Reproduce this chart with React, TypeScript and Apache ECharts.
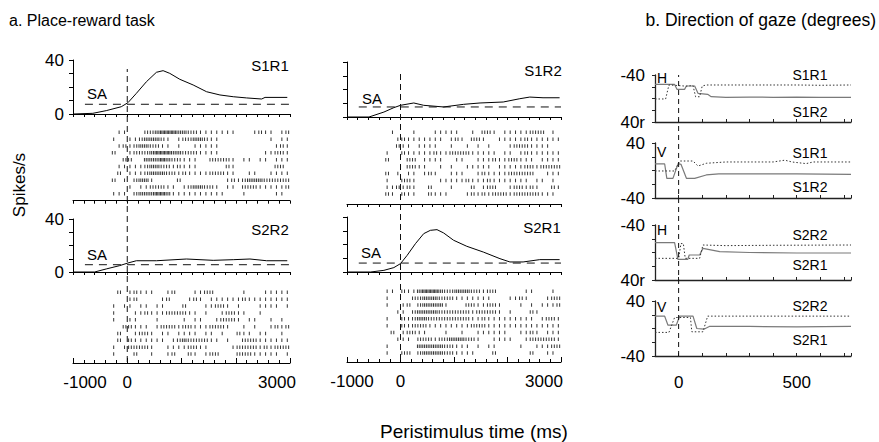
import React, { useEffect, useRef } from 'react';
import * as echarts from 'echarts';

const FONT = '"Liberation Sans", Arial, Helvetica, sans-serif';

// ---------- PSTH curves: [time ms, spikes/s] ----------
const psthS1R1 = [[-1000, 0], [-634, 0.5], [-387, 2.5], [-110, 5.4], [13, 8.4], [168, 15.3], [353, 23.9], [538, 30.9], [661, 32.1], [784, 30.1], [969, 25.7], [1215, 21.5], [1462, 16.5], [1708, 14.1], [1954, 12.8], [2200, 11.9], [2478, 11.1], [2540, 12.3], [2950, 12.3]];
const psthS1R2 = [[-1000, 0], [-589, 0], [-310, 3.6], [-124, 6.8], [0, 8.5], [248, 10.2], [434, 8.5], [806, 7.3], [1177, 9.2], [1487, 10.2], [1920, 10.9], [2230, 13.3], [2416, 14.5], [2664, 14], [2974, 14]];
const psthS2R2 = [[-1000, 0], [-602, 0], [-387, 2.3], [-140, 4.8], [13, 6.8], [168, 8.5], [538, 8.5], [1092, 9.8], [1585, 8.8], [1954, 9.3], [2262, 9.8], [2570, 8.5], [2950, 8.5]];
const psthS2R1 = [[-1000, 0], [-558, 0], [-310, 1.2], [-124, 3.2], [0, 6.1], [124, 12.1], [279, 20.6], [434, 27.9], [558, 30.3], [682, 30.8], [806, 28.4], [992, 23.1], [1239, 18.7], [1549, 14.5], [1859, 9.7], [2045, 7.3], [2292, 7.3], [2602, 9], [2974, 9]];

// spontaneous activity (SA) levels
const saS1R1 = [[-780, 7.2], [3000, 7.2]];
const saS1R2 = [[-780, 7.3], [3000, 7.3]];
const saS2R2 = [[-780, 5.5], [3000, 5.5]];
const saS2R1 = [[-780, 6.5], [3000, 6.5]];

// ---------- Rasters: per trial, spike counts in 100 ms bins starting at -300 ms ----------
const RASTER_T0 = -300;
const RASTER_BIN = 100;
const rowsS1R1 = [
  '011000223444332211111110001211012',
  '100112333210122332110000000001011',
  '012123322110100111110000000000121',
  '200122234443322211110000000011221',
  '002200333432211100222210110110111',
  '011111233221211100000210000000220',
  '020111233322121111222110011001111',
  '201023310000200000000121233322222',
  '000101122211012332210110222111112',
  '111023334431111111111000100000110',
];
const rowsS1R2 = [
  '010001000111110010221011111222010',
  '001211111110121022100111112111111',
  '002110111100100101010001222111100',
  '100211111211222211111011012111111',
  '200022011110011001112112211101111',
  '000022110010100111110111112212222',
  '201011012100111001211112222200111',
  '100221000011111211121111111011010',
  '112121002000100020122001221210021',
  '210211002111000121212221222221110',
];
const rowsS2R2 = [
  '020121110012000112200000100011111',
  '000120000120001210111111211111111',
  '101101101100020001122101000111101',
  '100011211122221101001221100100000',
  '100110001000010110012221011001010',
  '002211101222122111222100101001212',
  '020012210110111101101002110110010',
  '020211111101232222110100222111111',
  '101222210011112211000012222121222',
  '100020010012002101220002221111101',
];
const rowsS2R1 = [
  '110211344432233322122000001100010',
  '100002233322211111110001121000122',
  '100120233331000221122100010101112',
  '001102333322222212222101000210000',
  '100212332222222211211111111101221',
  '100212221111111122211111111111111',
  '020122110001001001111110011210111',
  '001110222122333221001111001222221',
  '100000333332211101011000010011122',
  '100220233332211110002000000200110',
];

// ---------- Gaze direction: [time ms, degrees] ----------
const gazeH1_S1R2 = [[-100, -24], [-17, -24], [-7, -15.6], [25, -15.6], [33, -21.3], [68, -21.3], [82, -8.8], [123, -7.1], [138, -3.1], [200, -2], [300, -2.5], [400, -2], [500, -2.2], [600, -2], [730, -2]];
const gazeH1_S1R1 = [[-100, 0.8], [-55, 0.8], [-41, -23], [0, -22], [30, -21], [61, -22], [72, -3], [89, -3], [100, -21.3], [117, -23], [300, -23], [500, -23], [600, -22.5], [730, -23]];
const gazeV1_S1R2 = [[-100, 9.5], [-59, 9.5], [-50, -11.4], [-24, -11.4], [-2, 10], [10, 9], [33, -11.4], [68, -11.4], [117, -6.5], [170, -5], [300, -5], [500, -5], [730, -5.5]];
const gazeV1_S1R1 = [[-100, -0.7], [-17, -0.7], [4, 13.8], [61, 13.8], [82, 6.5], [117, 10.5], [200, 12.4], [400, 12.4], [450, 15], [480, 12.4], [540, 10], [570, 12.4], [730, 12.4]];
const gazeH2_S2R1 = [[-100, -14.3], [-17, -14.3], [-3, 9.9], [39, 9.9], [45, 3.6], [89, 3.6], [103, -6], [174, -1.2], [300, 0], [500, 0.7], [730, 0.7]];
const gazeH2_S2R2 = [[-100, 8.5], [0, 8.5], [10, -13], [20, -13], [28, 8.5], [89, 8.5], [103, -10.9], [200, -10], [400, -10.5], [730, -10.9]];
const gazeV2_S2R1 = [[-100, 17.9], [-59, 17.9], [-45, 4.8], [-10, 4.8], [4, 17.9], [61, 17.9], [77, 0], [107, -1], [130, 3], [300, 3], [500, 2.5], [730, 3]];
const gazeV2_S2R2 = [[-100, -5.7], [-41, -5.7], [-17, 16], [50, 16], [56, -4.8], [103, -4.8], [123, 18], [300, 18], [730, 18]];

// tick labels
const psthYLabels = [0, 40];
const timeXLabels = [-1000, 0, 3000];
const gazeXLabels = [0, 500];

function rasterPoints(rows: string[]) {
  const pts: number[][] = [];
  rows.forEach((r, i) => {
    for (let b = 0; b < r.length; b++) {
      const n = Number(r[b]);
      for (let k = 0; k < n; k++) {
        pts.push([RASTER_T0 + b * RASTER_BIN + ((k + 0.5) * RASTER_BIN) / n, i + 1]);
      }
    }
  });
  return pts;
}

const BLACK = '#000';

export default function App() {
  const ref = useRef<HTMLDivElement>(null);

  useEffect(() => {
    if (!ref.current) return;
    const chart = echarts.init(ref.current, null, { renderer: 'svg' });

    const grids = [
      { left: 73, top: 60, width: 217, height: 54 }, // 0 PSTH S1R1
      { left: 73, top: 125.5, width: 217, height: 75.2 }, // 1 raster S1R1
      { left: 73, top: 219, width: 217, height: 53 }, // 2 PSTH S2R2
      { left: 73, top: 285.5, width: 217, height: 77.5 }, // 3 raster S2R2
      { left: 347, top: 62, width: 214, height: 55 }, // 4 PSTH S1R2
      { left: 347, top: 125.5, width: 214, height: 78.5 }, // 5 raster S1R2
      { left: 347, top: 217, width: 214, height: 55 }, // 6 PSTH S2R1
      { left: 347, top: 284.5, width: 214, height: 77.5 }, // 7 raster S2R1
      { left: 655, top: 75, width: 196, height: 47 }, // 8 H S1
      { left: 655, top: 143, width: 196, height: 55 }, // 9 V S1
      { left: 655, top: 225, width: 196, height: 55 }, // 10 H S2
      { left: 655, top: 301, width: 196, height: 55 }, // 11 V S2
      { left: 73, top: 69, width: 217, height: 293 }, // 12 overlay left
      { left: 347, top: 73, width: 214, height: 287 }, // 13 overlay right
      { left: 655, top: 75, width: 196, height: 281 }, // 14 overlay b
    ];

    const axisLine = { show: true, onZero: false, lineStyle: { color: BLACK, width: 1 } };
    const labelStyle = { color: BLACK, fontFamily: FONT, fontSize: 17 };

    const psthX = (g: number) => ({
      gridIndex: g, type: 'value', min: -1000, max: 3000, interval: 200,
      axisLine, axisTick: { show: true, length: 3, inside: false, lineStyle: { color: BLACK } },
      axisLabel: { show: false }, splitLine: { show: false },
    });
    const rasterTopX = (g: number) => ({
      gridIndex: g, type: 'value', min: -1000, max: 3000, interval: 200,
      axisLine, axisTick: { show: true, length: 3, inside: false, lineStyle: { color: BLACK } },
      axisLabel: { show: false }, splitLine: { show: false },
    });
    const rasterBottomX = (g: number, minPad: number, maxPad: number) => ({
      gridIndex: g, type: 'value', min: -1000, max: 3000, interval: 1000,
      axisLine,
      axisTick: { show: true, length: 5, inside: true, lineStyle: { color: BLACK } },
      minorTick: { show: true, splitNumber: 5, length: 3, lineStyle: { color: BLACK } },
      splitLine: { show: false }, minorSplitLine: { show: false },
      axisLabel: {
        ...labelStyle, margin: 11,
        formatter: (v: number) => {
          if (!timeXLabels.includes(v)) return '';
          if (v === -1000) return '{a|' + v + '}';
          if (v === 3000) return '{b|' + v + '}';
          return String(v);
        },
        rich: {
          a: { ...labelStyle, padding: [0, 0, 0, minPad] },
          b: { ...labelStyle, padding: [0, maxPad, 0, 0] },
        },
      },
    });
    const psthY = (g: number, labels: boolean) => ({
      gridIndex: g, type: 'value', min: 0, max: 40, interval: 10,
      axisLine, axisTick: { show: true, length: 4, inside: false, lineStyle: { color: BLACK } },
      splitLine: { show: false },
      axisLabel: labels
        ? { ...labelStyle, margin: 9, formatter: (v: number) => (psthYLabels.includes(v) ? String(v) : '') }
        : { show: false },
    });
    const rasterY = (g: number, max: number) => ({
      gridIndex: g, type: 'value', min: 0, max, inverse: true, show: false,
    });
    const gazeX = (g: number, labels: boolean) => ({
      gridIndex: g, type: 'value', min: -100, max: 730, interval: 100,
      axisLine: { show: true, onZero: false, lineStyle: { color: '#222', width: 1.3 } },
      axisTick: { show: true, length: 3, inside: true, lineStyle: { color: '#222' } },
      splitLine: { show: false },
      axisLabel: labels
        ? { ...labelStyle, margin: 18, formatter: (v: number) => (gazeXLabels.includes(v) ? String(v) : '') }
        : { show: false },
    });
    const gazeY = (g: number, horiz: boolean) => ({
      gridIndex: g, type: 'value', min: -40, max: 40, interval: 20, inverse: horiz,
      axisLine: { show: true, onZero: false, lineStyle: { color: '#222', width: 1.3 } },
      axisTick: { show: true, length: 3, inside: false, lineStyle: { color: '#222' } },
      splitLine: { show: false },
      axisLabel: {
        ...labelStyle, margin: 10,
        formatter: (v: number) => {
          if (horiz) return v === -40 ? '-40' : v === 40 ? '40r' : '';
          return v === 40 ? '40' : v === -40 ? '-40' : '';
        },
      },
    });
    const hiddenX = (g: number, min: number, max: number) => ({ gridIndex: g, type: 'value', min, max, show: false });
    const hiddenY = (g: number) => ({ gridIndex: g, type: 'value', min: 0, max: 1, show: false });

    const xAxis = [
      psthX(0), rasterTopX(1), psthX(2), rasterBottomX(3, 24, 26),
      psthX(4), rasterTopX(5), psthX(6), rasterBottomX(7, 10, 34),
      gazeX(8, false), gazeX(9, false), gazeX(10, false), gazeX(11, true),
      hiddenX(12, -1000, 3000), hiddenX(13, -1000, 3000), hiddenX(14, -100, 730),
    ];
    const yAxis = [
      psthY(0, true), rasterY(1, 11), psthY(2, true), rasterY(3, 11.3),
      psthY(4, false), rasterY(5, 11.44), psthY(6, false), rasterY(7, 11.3),
      gazeY(8, true), gazeY(9, false), gazeY(10, true), gazeY(11, false),
      hiddenY(12), hiddenY(13), hiddenY(14),
    ];

    const line = (g: number, data: number[][], extra: any = {}) => ({
      type: 'line', xAxisIndex: g, yAxisIndex: g, data, symbol: 'none', silent: true,
      lineStyle: { color: BLACK, width: 1, ...(extra.lineStyle || {}) },
      z: extra.z ?? 3,
    });
    const sa = (g: number, data: number[][]) => line(g, data, { lineStyle: { type: [8, 6], color: '#111' } });
    const raster = (g: number, rows: string[]) => ({
      type: 'scatter', xAxisIndex: g, yAxisIndex: g, data: rasterPoints(rows), silent: true,
      symbol: 'rect', symbolSize: [1, 3.5], itemStyle: { color: BLACK },
    });
    const solidGaze = (g: number, data: number[][]) => line(g, data, { lineStyle: { color: '#7a7a7a', width: 1.2 } });
    const dottedGaze = (g: number, data: number[][]) => line(g, data, { lineStyle: { color: '#333', width: 1, type: [1.5, 2] } });
    const zeroLine = (g: number, dash: number[]) => line(g, [[0, 0], [0, 1]], { lineStyle: { type: dash, color: '#111' } });

    const series = [
      line(0, psthS1R1), sa(0, saS1R1), raster(1, rowsS1R1),
      line(2, psthS2R2), sa(2, saS2R2), raster(3, rowsS2R2),
      line(4, psthS1R2), sa(4, saS1R2), raster(5, rowsS1R2),
      line(6, psthS2R1), sa(6, saS2R1), raster(7, rowsS2R1),
      solidGaze(8, gazeH1_S1R2), dottedGaze(8, gazeH1_S1R1),
      solidGaze(9, gazeV1_S1R2), dottedGaze(9, gazeV1_S1R1),
      solidGaze(10, gazeH2_S2R1), dottedGaze(10, gazeH2_S2R2),
      solidGaze(11, gazeV2_S2R1), dottedGaze(11, gazeV2_S2R2),
      zeroLine(12, [6, 4]), zeroLine(13, [6, 4]), zeroLine(14, [5, 4]),
    ];

    const txt = (text: string, x: number, y: number, size: number, align = 'center', rotation = 0) => ({
      type: 'text', x, y, rotation, silent: true,
      style: {
        text, fill: BLACK, font: `${size}px ${FONT}`,
        align, textAlign: align, verticalAlign: 'middle', textVerticalAlign: 'middle',
      },
    });

    const graphic = [
      txt('a. Place-reward task', 9, 20, 16, 'left'),
      txt('b. Direction of gaze (degrees)', 876, 20, 17.5, 'right'),
      txt('Spikes/s', 19, 185, 17, 'center', Math.PI / 2),
      txt('Peristimulus time (ms)', 474, 431, 19),
      txt('SA', 97, 93, 15), txt('SA', 372, 98, 15), txt('SA', 97, 254, 15), txt('SA', 371, 252, 15),
      txt('S1R1', 270, 65, 15), txt('S1R2', 543, 70, 15), txt('S2R2', 270, 229, 15), txt('S2R1', 542, 227, 15),
      txt('S1R1', 810, 75, 14), txt('S1R2', 810, 112, 14),
      txt('S1R1', 810, 153, 14), txt('S1R2', 810, 187, 14),
      txt('S2R2', 810, 235, 14), txt('S2R1', 810, 265, 14),
      txt('S2R2', 810, 306, 14), txt('S2R1', 810, 340, 14),
      txt('H', 657, 78, 14, 'left'), txt('V', 657, 152, 14, 'left'),
      txt('H', 657, 230, 14, 'left'), txt('V', 657, 307, 14, 'left'),
    ];

    chart.setOption({
      animation: false,
      backgroundColor: '#fff',
      textStyle: { fontFamily: FONT },
      grid: grids,
      xAxis,
      yAxis,
      series,
      graphic,
    });

    return () => chart.dispose();
  }, []);

  return <div ref={ref} style={{ position: 'fixed', left: 0, top: 0, width: 879, height: 442 }} />;
}
